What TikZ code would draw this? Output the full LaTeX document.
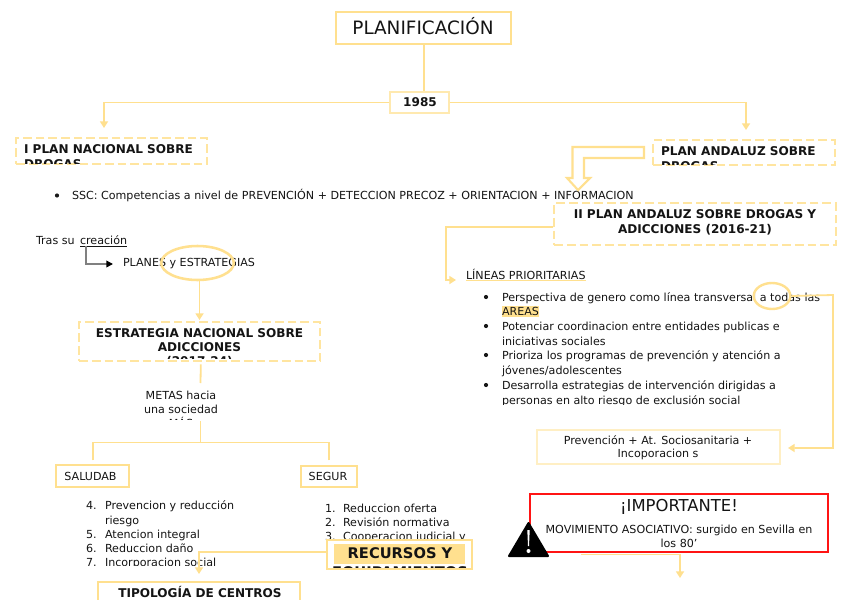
\documentclass[tikz,border=0pt]{standalone}
\usepackage{fontspec}
\setmainfont{DejaVu Sans}
\usetikzlibrary{arrows.meta,shapes.geometric}
\definecolor{ylw}{HTML}{FFE08F}
\definecolor{ylwl}{HTML}{FFEFC4}
\definecolor{red1}{HTML}{FF1414}
\newcommand{\pxfont}[1]{\fontsize{#1}{#1}\selectfont}
\tikzset{
 x=0.75pt,y=-0.75pt,
 box/.style={draw=ylw,line width=1.4pt,rectangle,inner sep=0pt},
 dbox/.style={draw=ylw!85!white,line width=1.5pt,dash pattern=on 6.5pt off 3pt,rectangle,inner sep=0pt},
 conn/.style={draw=ylw,line width=1.35pt},
 arr/.style={conn,-{Triangle[length=5pt,width=6pt]}},
 txt/.style={inner sep=0pt,outer sep=0pt,text=black!92},
 body/.style={txt,font=\pxfont{8.33}},
 bd/.style={txt,font=\pxfont{9.05}\bfseries},
}
\newcommand{\rbox}[6]{% name style x1 y1 x2 y2
 \node[#2,minimum width={(#5-#3)*0.75pt},minimum height={(#6-#4)*0.75pt},anchor=north west] (#1) at ({#3-0.7},{#4-0.7}) {};}
\begin{document}
\begin{tikzpicture}
\useasboundingbox[fill=white] (0,0) rectangle (848,599);
% boxes
\rbox{plan}{box}{336}{12}{511}{44}
\rbox{yr}{box,line width=1.1pt,draw=ylwl!60!ylw}{390}{92}{449}{113}
\rbox{ipn}{dbox}{16}{138}{207}{164}
\rbox{pa}{dbox}{653}{140}{835}{165}
\rbox{iipa}{dbox}{554}{203}{836}{245}
\rbox{ena}{dbox}{79}{322}{320}{361}
\rbox{sal}{box}{56}{465}{129}{487}
\rbox{seg}{box}{301}{466}{357}{487}
\rbox{prev}{box,draw=ylwl}{537}{430}{780}{464}
\rbox{tip}{box,line width=1pt}{98}{582}{300}{610}
% text
\node[txt,font=\pxfont{13.8}] (tplan) at (423,26) {PLANIFICACIÓN};
\node[bd] (tyr) at (420,102.5) {1985};
\begin{scope}
\clip (16,140) rectangle (207,163);
\node[bd,anchor=base west] (t1) at (24,153) {I PLAN NACIONAL SOBRE};
\node[bd,anchor=base west] (t1b) at (24,168) {DROGAS};
\end{scope}
\begin{scope}
\clip (653,142) rectangle (835,164);
\node[bd,anchor=base west] (t2) at (661,155) {PLAN ANDALUZ SOBRE};
\node[bd,anchor=base west] (t2b) at (661,170) {DROGAS};
\end{scope}
\node[body,anchor=base west] (ssc) at (72,199) {SSC: Competencias a nivel de PREVENCIÓN + DETECCION PRECOZ + ORIENTACION + INFORMACION};
\fill[black!90] (57,195.5) circle (2.1);
\node[bd,anchor=base] (t3a) at (695,218.5) {II PLAN ANDALUZ SOBRE DROGAS Y};
\node[bd,anchor=base] (t3b) at (695,233.5) {ADICCIONES (2016-21)};
\node[body,anchor=base west] (lin) at (466,279) {LÍNEAS PRIORITARIAS};
\node[body,anchor=base west] (tras) at (36,244) {Tras su \,\underline{creación}};
\node[body,anchor=base west] (pl) at (123,266) {PLANES y ESTRATEGIAS};
% AREAS highlight and list
\fill[ylw] (502,305.5) rectangle (539,317);
\begin{scope}
\clip (480,285) rectangle (830,404.5);
\foreach \y/\t in {301/{Perspectiva de genero como línea transversal a todas las},315/{AREAS},330/{Potenciar coordinacion entre entidades publicas e},345/{iniciativas sociales},359/{Prioriza los programas de prevención y atención a},374/{jóvenes/adolescentes},389/{Desarrolla estrategias de intervención dirigidas a},404/{personas en alto riesgo de exclusión social}}
 {\node[body,anchor=base west] at (502,\y) {\t};}
\foreach \y in {297,326,355,385} {\fill[black!90] (486,\y) circle (2.1);}
\end{scope}
\begin{scope}
\clip (79,324) rectangle (320,358);
\node[bd,anchor=base] (t4) at (199.5,337) {ESTRATEGIA NACIONAL SOBRE};
\node[bd,anchor=base] (t4b) at (199.5,351) {ADICCIONES};
\node[bd,anchor=base] (t4c) at (199.5,365) {(2017-24)};
\end{scope}
\begin{scope}
\clip (130,385) rectangle (235,419);
\node[body,anchor=base] (m1) at (181,399) {METAS hacia};
\node[body,anchor=base] (m2) at (181,413) {una sociedad};
\node[body,anchor=base] (m3) at (181,427) {MÁS};
\end{scope}
\coordinate (mtop) at (200.5,383);
\coordinate (mbot) at (200.5,421);
\coordinate (mjoin) at (200.5,442.5);
\node[body] (ts) at (90.5,476) {SALUDAB};
\node[body] (tg) at (328,476.5) {SEGUR};
\begin{scope}
\clip (80,495) rectangle (300,565);
\foreach \y/\n/\t in {509/4./{Prevencion y reducción},524//{riesgo},538/5./{Atencion integral},552/6./{Reduccion daño},566/7./{Incorporacion social}}
 {\node[body,anchor=base west] at (105,\y) {\t}; \node[body,anchor=base west] at (86,\y) {\n};}
\end{scope}
\begin{scope}
\clip (320,498) rectangle (480,539);
\foreach \y/\n/\t in {512/1./{Reduccion oferta},526/2./{Revisión normativa},540/3./{Cooperacion judicial y}}
 {\node[body,anchor=base west] at (343,\y) {\t}; \node[body,anchor=base west] at (325,\y) {\n};}
\end{scope}
\rbox{rec}{box,fill=white,line width=1.6pt}{327}{540}{472}{569}
\fill[ylw] (334,544) rectangle (465,564);
\begin{scope}
\clip (327,541) rectangle (472,567);
\node[txt,font=\pxfont{11}\bfseries,anchor=base] (tr) at (400,558) {RECURSOS Y};
\node[txt,font=\pxfont{11}\bfseries,anchor=base] (tr2) at (400,577) {EQUIPAMIENTOS};
\end{scope}
\node[bd,anchor=base] (tt) at (200,597) {TIPOLOGÍA DE CENTROS};
\node[body,anchor=base] (pv1) at (658,444) {Prevención + At. Sociosanitaria +};
\node[body,anchor=base] (pv2) at (658,457) {Incoporacion s};
% important
\rbox{imp}{draw=red1,line width=1.5pt,rectangle,inner sep=0pt}{530}{494}{828}{552}
\node[txt,font=\pxfont{12.3},anchor=base] (ti) at (679,511) {¡IMPORTANTE!};
\node[body,anchor=base] (tm) at (679,533) {MOVIMIENTO ASOCIATIVO: surgido en Sevilla en};
\node[body,anchor=base] (tl) at (679,547) {los 80'};
\fill[black,draw=black,line width=1.5pt,line join=round] (528.5,523) -- (548,556) -- (509,556) -- cycle;
\fill[white] (527.3,530) -- (529.7,530) -- (529,546) -- (528,546) -- cycle;
\fill[white] (528.5,551) circle (2);
% ellipses above the text
\node[draw=ylw,line width=1.9pt,ellipse,minimum width=54.5pt,minimum height=25.5pt,inner sep=0pt] (ell) at (197.5,263) {};
\node[draw=ylw,line width=1.8pt,ellipse,minimum width=27.5pt,minimum height=19.5pt,inner sep=0pt] (ell2) at (772,296) {};
% connectors
\draw[conn] (plan.south) -- (plan.south |- yr.north);
\draw[arr] (yr.west) -| (104,128);
\draw[arr] (yr.east) -| (746,130);
\draw[arr] ([yshift=-2.25pt]iipa.west) -| (446,280) -- (456,280);
\draw[draw=ylw,line width=1pt] ([yshift=-1pt]lin.base west) -- ([yshift=-1pt]lin.base east);
\draw[draw=black!50,line width=1.1pt,-{Triangle[length=5pt,width=5pt,color=black]}] (86,246) |- (113,264);
\draw[arr] ([xshift=1.5pt]ell.south) -- (199.5,320);
\draw[conn] ([xshift=.75pt,yshift=-1.5pt]ena.south) -- (mtop);
\draw[conn] (mbot) -- (mjoin);
\draw[conn] ([yshift=3pt]sal.north) |- (mjoin);
\draw[conn] ([yshift=3.75pt]seg.north) |- (mjoin);
\draw[arr] ([yshift=1.9pt]rec.west) -| (199,574);
\draw[arr] (ell2.east) -- (833,295) |- (788,448);
\coordinate (impsrc) at (581,554.5);
\coordinate (impend) at (680,578);
\draw[arr] (impsrc) -| (impend);
% block arrow
\draw[draw=ylw,line width=1.6pt,line join=miter,fill=white] (644,147) -- (572.5,147) -- (572.5,178) -- (567,178) -- (578,190) -- (590,178) -- (584,178) -- (584,158) -- (644,158) -- cycle;
\end{tikzpicture}
\end{document}
